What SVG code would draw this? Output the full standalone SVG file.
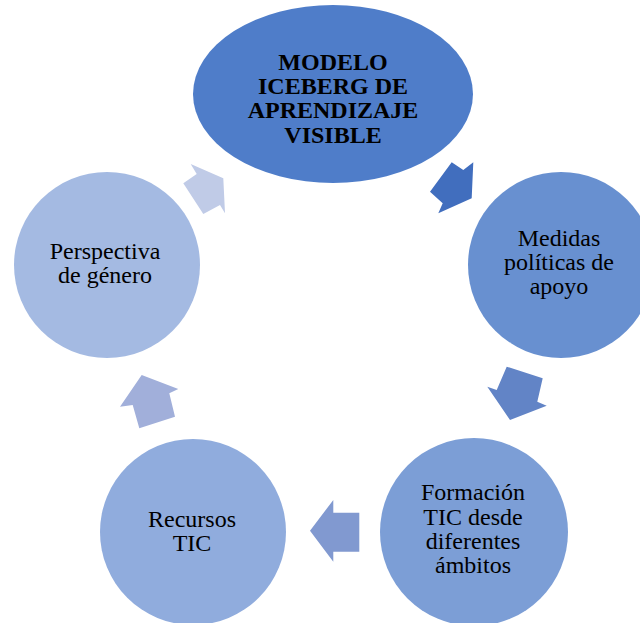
<svg xmlns="http://www.w3.org/2000/svg" width="640" height="623" viewBox="0 0 640 623">
<style>
text{font-family:"Liberation Serif","Times New Roman",serif;font-size:24px;fill:#000;text-anchor:middle}
.b{font-weight:bold}
</style>
<rect width="640" height="623" fill="#fff"/>
<g id="connectors">
<polygon fill="#416EBE" points="451.7,162.3 463.3,170 473.3,162.3 471.7,198.3 438.3,213.3 442.7,203.3 430,191.7"/>
<polygon fill="#6284C6" points="506.7,366.7 542.7,378.3 537.3,401.7 546.7,405.7 510,420 487.3,386.7 496.7,390"/>
<polygon fill="#8199D0" points="333.3,500 333.3,512.7 359.3,512.7 359.3,551.7 333.3,551.7 333.3,561.7 310,530.7"/>
<polygon fill="#A1AFDA" points="141.7,375 178.3,389 169.3,393.3 175,416.7 139.3,428.3 132.7,405 120,406.7"/>
<polygon fill="#C0CBE7" points="190.7,164 223.3,178.3 225,213.3 220,205 203.3,214 183.3,183.3 196.7,174"/>
</g>
<g id="modelo">
<ellipse cx="333" cy="94" rx="140" ry="89" fill="#4F7DC9"/>
<text class="b" x="333" y="70">MODELO</text>
<text class="b" x="333" y="94">ICEBERG DE</text>
<text class="b" x="333" y="118">APRENDIZAJE</text>
<text class="b" x="333" y="143">VISIBLE</text>
</g>
<g id="medidas">
<circle cx="561" cy="265" r="93" fill="#6890D0"/>
<text x="559" y="246">Medidas</text>
<text x="559" y="270">políticas de</text>
<text x="559" y="294">apoyo</text>
</g>
<g id="formacion">
<circle cx="474" cy="532" r="94" fill="#7C9ED6"/>
<text x="473" y="500">Formación</text>
<text x="473" y="525">TIC desde</text>
<text x="473" y="549">diferentes</text>
<text x="473" y="573">ámbitos</text>
</g>
<g id="recursos">
<circle cx="193" cy="532" r="93" fill="#90ACDD"/>
<text x="192" y="527">Recursos</text>
<text x="192" y="551">TIC</text>
</g>
<g id="perspectiva">
<circle cx="107" cy="265" r="93" fill="#A4BAE2"/>
<text x="105" y="259">Perspectiva</text>
<text x="105" y="283">de género</text>
</g>
</svg>
